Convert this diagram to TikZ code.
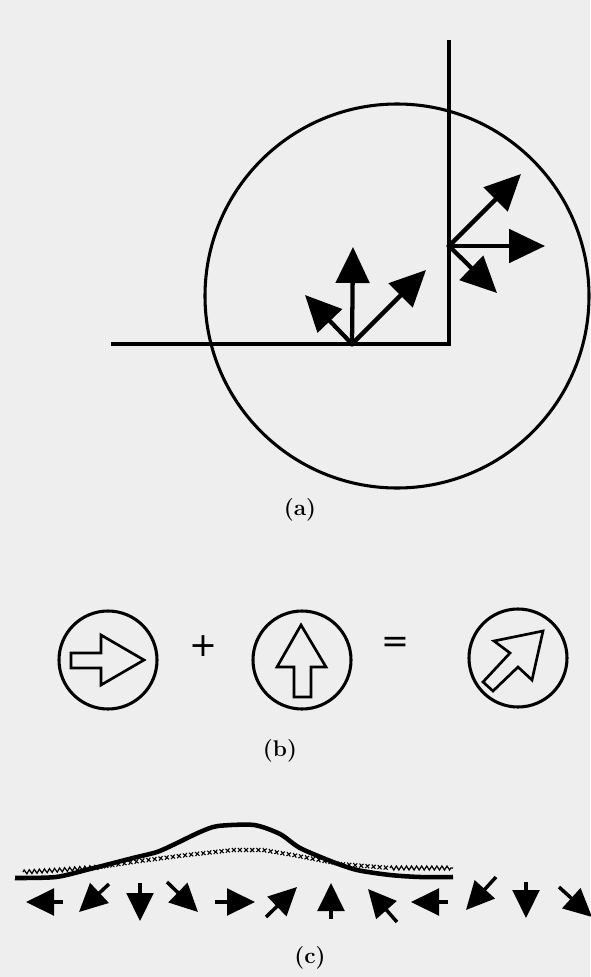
\documentclass[tikz,border=0pt]{standalone}
\usepackage{fontspec}
\newfontfamily\plussym{DejaVu Sans}
\usetikzlibrary{arrows.meta,decorations.pathmorphing,decorations.markings}
\definecolor{paper}{HTML}{EEEEEE}
\begin{document}
\begin{tikzpicture}[x=0.75pt,y=-0.75pt,
  outline/.style={line width=2.3pt},
  vecA/.style={line width=3.2pt,-{Triangle[length=27pt,width=25pt]}},
  vecC/.style={line width=2.6pt,-{Triangle[length=21pt,width=20pt]}},
  hollow/.style={line width=2pt,line join=miter},
  lbl/.style={font=\fontsize{17}{20}\selectfont\bfseries},
  sym/.style={font=\plussym\fontsize{25}{30}\selectfont}]
\useasboundingbox (0,0) rectangle (590,977);
\fill[paper] (0,0) rectangle (590,977);

% ---------- (a) ----------
\draw[outline] (397,296) circle[radius=192];
\coordinate (O1) at (352,344);
\coordinate (O2) at (449,246);
\coordinate (hl) at (111,344);
\coordinate (vt) at (449,40);
\draw[outline] (hl) -- (O1) -- (449,344) -- (O2) -- (vt);
\coordinate (a1) at (353,247);
\coordinate (a2) at (426,270);
\coordinate (a3) at (305,295);
\coordinate (b1) at (521,174);
\coordinate (b2) at (545,246);
\coordinate (b3) at (497,293);
\draw[vecA] (O1) -- (a1);
\draw[vecA] (O1) -- (a2);
\draw[vecA] (O1) -- (a3);
\draw[vecA] (O2) -- (b1);
\draw[vecA] (O2) -- (b2);
\draw[vecA] (O2) -- (b3);
\fill (O1) circle[radius=2.7];
\fill (O2) circle[radius=2.7];
\node[lbl] (la) at (300,510) {(a)};

% ---------- (b) ----------
\draw[outline] (108,660) circle[radius=49];
\draw[outline] (302,660) circle[radius=49];
\draw[outline] (518,658) circle[radius=49];
\draw[hollow] (71,653) -- (101,653) -- (101,635) -- (144,660) -- (101,685) -- (101,668) -- (71,668) -- cycle;
\draw[hollow] (301,625) -- (326,667) -- (311,667) -- (311,697) -- (294,697) -- (294,667) -- (277,667) -- cycle;
\draw[hollow] (543,631) -- (494,641) -- (510,653) -- (483,682) -- (493,691) -- (518,667) -- (532,680) -- cycle;
\node[sym] (plus) at (203,646) {+};
\node[sym] (eq) at (395,645) {=};
\node[lbl] (lb) at (280,751) {(b)};

% ---------- (c) ----------
\draw[line width=3.4pt,line cap=butt] plot[smooth,tension=0.45] coordinates {(15,878) (56,877) (90,869) (133,858) (157,852) (175,844) (200,832) (218,826) (254,825) (280,834) (300,848) (333,862) (357,870) (390,875) (420,877) (453,877)};
\begin{scope}[shift={(0,860)}]
\draw[line width=0.9pt,decorate,decoration={zigzag,amplitude=1.5pt,segment length=3.8pt}] (23,12) -- (60,10) -- (100,7);
\path[decorate,decoration={markings,mark=between positions 0 and 1 step 4.6pt with {\draw[line width=0.8pt] (-2,-2)--(2,2) (-2,2)--(2,-2);}}] (100,7) -- (140,1) -- (187,-5) -- (233,-10) -- (263,-10) -- (293,-5) -- (340,4) -- (390,8);
\draw[line width=0.9pt,decorate,decoration={zigzag,amplitude=1.5pt,segment length=3.8pt}] (390,8) -- (453,8);
\end{scope}

\draw[vecC] (63,902) -- (26,902);
\draw[vecC] (109,884) -- (79,912);
\draw[vecC] (140,883) -- (140,921);
\draw[vecC] (167,882) -- (198,912);
\draw[vecC] (215,902) -- (255,902);
\draw[vecC] (266,917) -- (297,887);
\draw[vecC] (331,919) -- (331,883);
\draw[vecC] (397,922) -- (368,889);
\draw[vecC] (448,902) -- (411,902);
\draw[vecC] (496,877) -- (466,910);
\draw[vecC] (526,882) -- (526,918);
\draw[vecC] (559,887) -- (592,917);
\node[lbl] (lc) at (310,958) {(c)};
\end{tikzpicture}
\end{document}
